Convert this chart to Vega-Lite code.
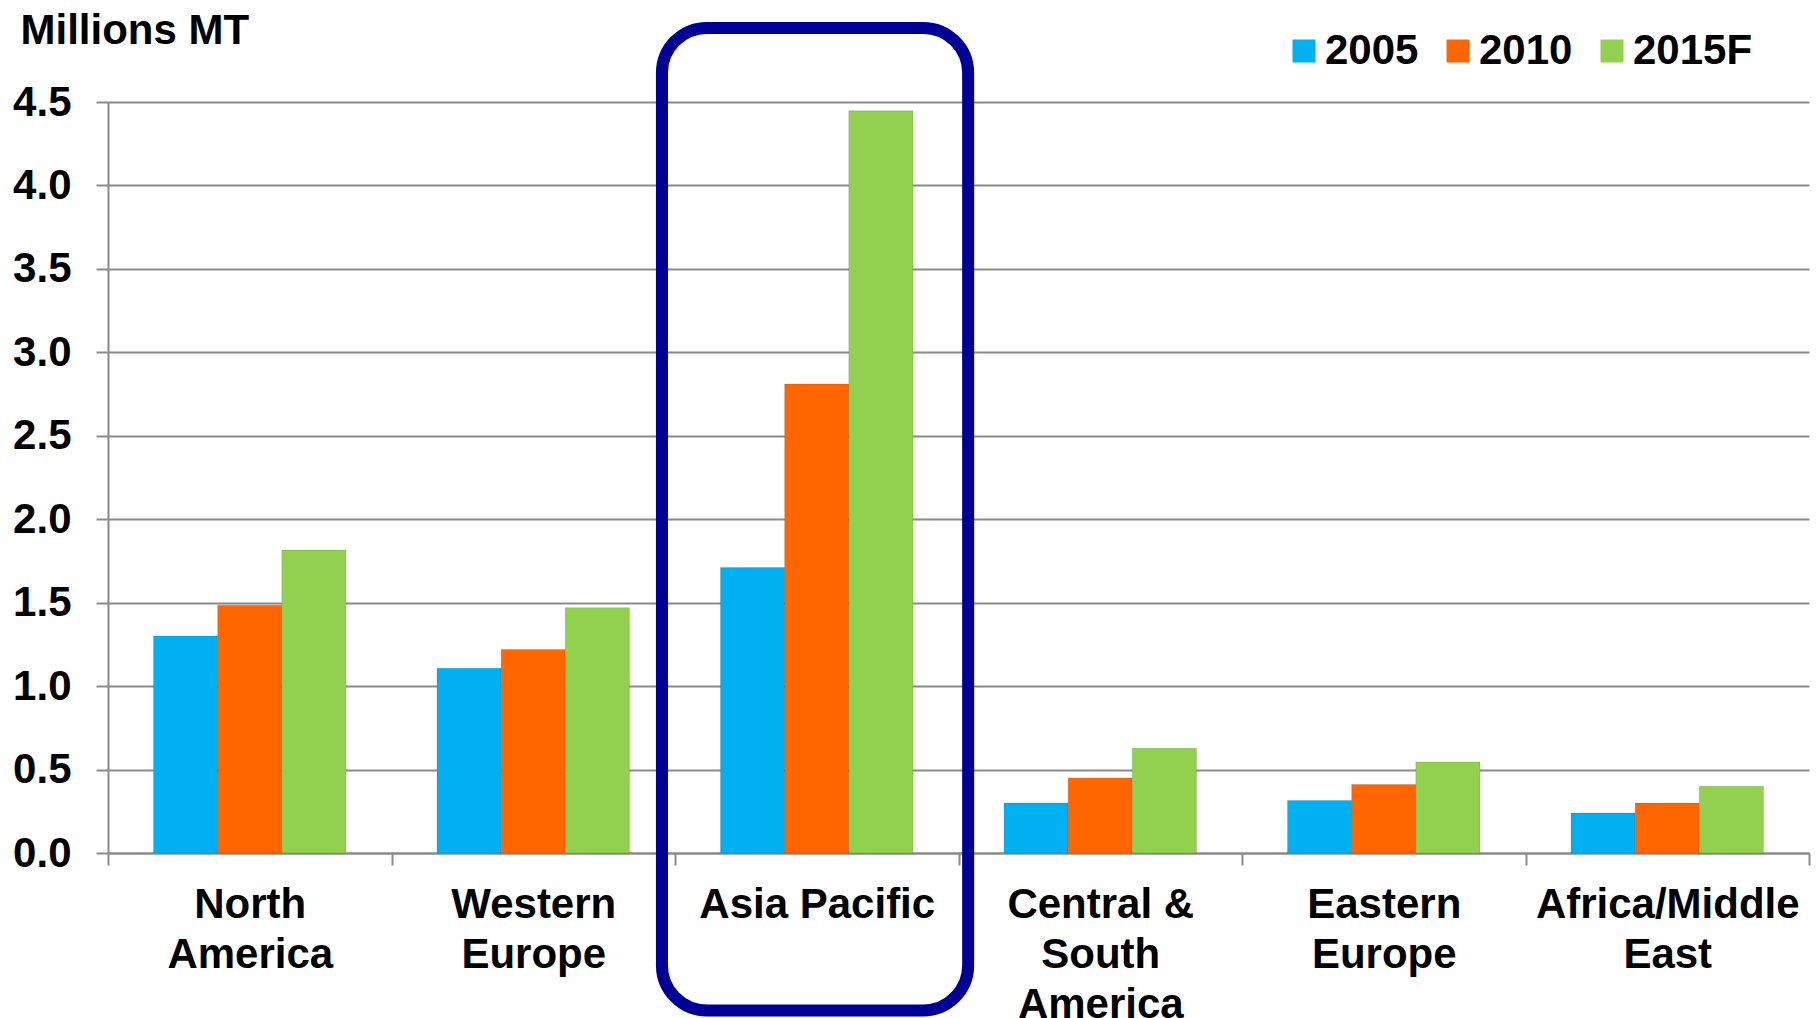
{
  "$schema": "https://vega.github.io/schema/vega-lite/v6.json",
  "width": 1701,
  "height": 751,
  "autosize": {"type": "none"},
  "padding": {"left": 108, "top": 102, "right": 7, "bottom": 165},
  "background": "white",
  "config": {
    "font": "Liberation Sans",
    "view": {"stroke": null}
  },
  "resolve": {"scale": {"x": "independent"}},
  "layer": [
    {
      "data": {
        "values": [
          {"region": "North America", "year": "2005", "value": 1.30},
          {"region": "North America", "year": "2010", "value": 1.485},
          {"region": "North America", "year": "2015F", "value": 1.815},
          {"region": "Western Europe", "year": "2005", "value": 1.107},
          {"region": "Western Europe", "year": "2010", "value": 1.22},
          {"region": "Western Europe", "year": "2015F", "value": 1.47},
          {"region": "Asia Pacific", "year": "2005", "value": 1.71},
          {"region": "Asia Pacific", "year": "2010", "value": 2.81},
          {"region": "Asia Pacific", "year": "2015F", "value": 4.447},
          {"region": "Central & South America", "year": "2005", "value": 0.30},
          {"region": "Central & South America", "year": "2010", "value": 0.45},
          {"region": "Central & South America", "year": "2015F", "value": 0.627},
          {"region": "Eastern Europe", "year": "2005", "value": 0.315},
          {"region": "Eastern Europe", "year": "2010", "value": 0.41},
          {"region": "Eastern Europe", "year": "2015F", "value": 0.545},
          {"region": "Africa/Middle East", "year": "2005", "value": 0.24},
          {"region": "Africa/Middle East", "year": "2010", "value": 0.30},
          {"region": "Africa/Middle East", "year": "2015F", "value": 0.40}
        ]
      },
      "mark": {"type": "bar", "stroke": "#000000", "strokeOpacity": 0.12, "strokeWidth": 1},
      "encoding": {
        "x": {
          "field": "region",
          "type": "nominal",
          "sort": null,
          "scale": {"paddingInner": 0, "paddingOuter": 0},
          "axis": {
            "title": null,
            "labelAngle": 0,
            "labelFont": "Liberation Sans",
            "labelFontSize": 42,
            "labelFontWeight": "bold",
            "labelColor": "#000000",
            "labelLimit": 500,
            "labelLineHeight": 50,
            "labelPadding": 19,
            "labelExpr": "datum.label == 'Asia Pacific' ? datum.label : (datum.label == 'Central & South America' ? ['Central &', 'South', 'America'] : split(datum.label, ' '))",
            "tickBand": "extent",
            "tickSize": 12,
            "tickWidth": 2,
            "tickColor": "#8a8a8a",
            "domainColor": "#8a8a8a",
            "domainWidth": 2,
            "grid": false
          }
        },
        "xOffset": {
          "field": "year",
          "type": "nominal",
          "scale": {"paddingInner": 0, "paddingOuter": 0.71}
        },
        "y": {
          "field": "value",
          "type": "quantitative",
          "scale": {"domain": [0, 4.5], "nice": false, "zero": true},
          "axis": {
            "values": [0, 0.5, 1, 1.5, 2, 2.5, 3, 3.5, 4, 4.5],
            "format": ".1f",
            "title": "Millions MT",
            "titleAngle": 0,
            "titleX": -88,
            "titleY": -59,
            "titleAlign": "left",
            "titleBaseline": "alphabetic",
            "titleFont": "Liberation Sans",
            "titleFontSize": 42,
            "titleFontWeight": "bold",
            "titleColor": "#000000",
            "labelFont": "Liberation Sans",
            "labelFontSize": 42,
            "labelFontWeight": "bold",
            "labelColor": "#000000",
            "labelPadding": 25,
            "tickSize": 12,
            "tickWidth": 2,
            "tickColor": "#8a8a8a",
            "domainColor": "#8a8a8a",
            "domainWidth": 2,
            "grid": true,
            "gridColor": "#8a8a8a",
            "gridWidth": 2
          }
        },
        "color": {
          "field": "year",
          "type": "nominal",
          "scale": {"domain": ["2005", "2010", "2015F"], "range": ["#00B0F0", "#FF6600", "#92D050"]},
          "legend": {
            "title": null,
            "orient": "none",
            "direction": "horizontal",
            "legendX": 1175,
            "legendY": -72,
            "symbolType": "square",
            "symbolSize": 529,
            "symbolStrokeWidth": 0,
            "labelFont": "Liberation Sans",
            "labelFontSize": 42,
            "labelFontWeight": "bold",
            "labelColor": "#000000",
            "labelOffset": 0,
            "labelLimit": 300,
            "columnPadding": 18
          }
        }
      }
    },
    {
      "data": {"values": [{"region": "Asia Pacific"}]},
      "mark": {"type": "rect", "filled": false, "stroke": "#000096", "strokeWidth": 12, "cornerRadius": 45, "clip": false},
      "encoding": {
        "x": {"datum": 1.954, "type": "quantitative", "scale": {"domain": [0, 6], "nice": false, "zero": false}, "axis": null},
        "x2": {"datum": 3.034},
        "y": {"datum": 4.944, "type": "quantitative"},
        "y2": {"datum": -0.943}
      }
    }
  ]
}
